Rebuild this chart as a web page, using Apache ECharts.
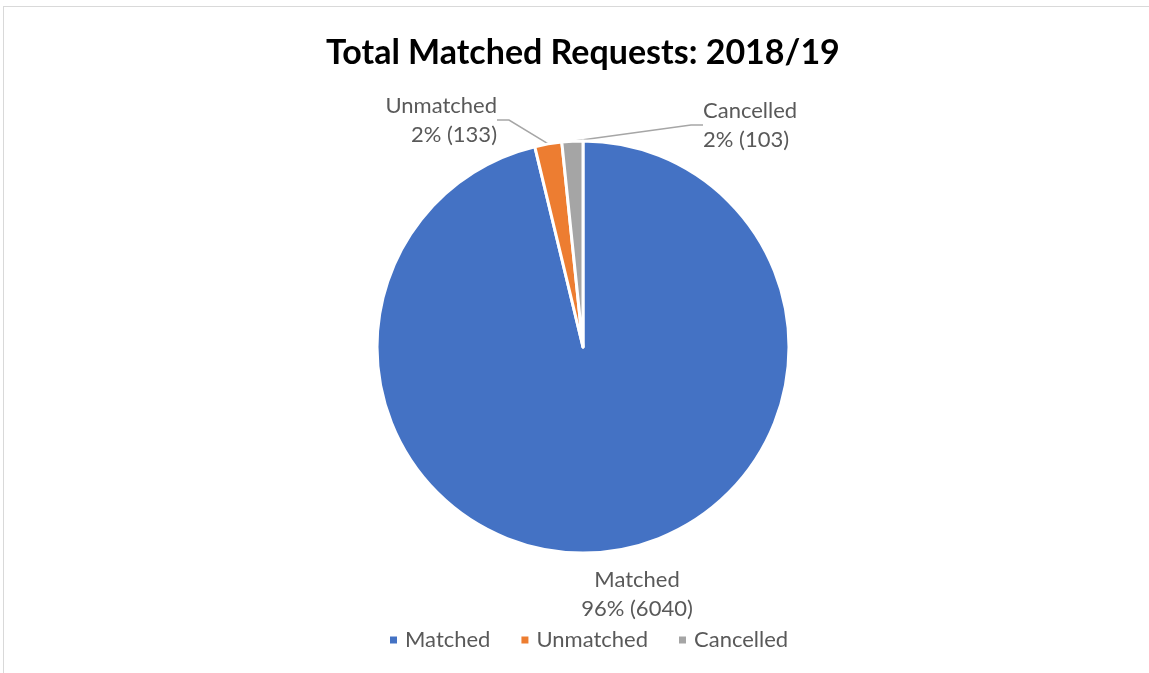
<!DOCTYPE html>
<html>
<head>
<meta charset="utf-8">
<script src="https://cdn.jsdelivr.net/npm/echarts@6/dist/echarts.min.js"></script>
<style>
  html, body { margin: 0; padding: 0; background: #fff; }
  #frame { position: absolute; left: 3px; top: 6px; width: 1170px; height: 700px; border: 1px solid #d9d9d9; }
  #main { position: absolute; left: 0; top: 0; width: 1149px; height: 673px; }
</style>
</head>
<body>
<div id="frame"></div>
<div id="main"></div>
<script>
const categories = ['Matched', 'Unmatched', 'Cancelled']
const counts = [6040, 133, 103]
const colors = ['#4472C4', '#ED7D31', '#A5A5A5']

// where Excel put each data label (text anchor)
const labelSpots = [
  {x: 637, y: 594, align: 'center'},
  {x: 497, y: 120, align: 'right'},
  {x: 703, y: 125, align: 'left'}
]

const myChart = echarts.init(document.getElementById('main'))
const font = 'Lato, "Open Sans", sans-serif'

let option = {
  animation: false,
  color: colors,
  title: {
    text: 'Total Matched Requests: 2018/19',
    left: 321,
    top: 31,
    textStyle: {fontFamily: font, fontSize: 34, fontWeight: 'bold', color: '#000'}
  },
  legend: {
    bottom: 17,
    left: 383,
    itemWidth: 9,
    itemHeight: 9,
    itemGap: 29,
    icon: 'rect',
    textStyle: {fontFamily: font, fontSize: 22, color: '#595959', padding: [0, 0, 0, 2]},
    data: categories
  },
  series: [
    {
      type: 'pie',
      center: [583, 347],
      radius: 206,
      startAngle: 90,
      clockwise: true,
      percentPrecision: 0,
      itemStyle: {borderColor: '#fff', borderWidth: 3},
      label: {
        show: true,
        position: 'outside',
        formatter: '{b}\n{d}% ({c})',
        fontFamily: font,
        fontSize: 22,
        lineHeight: 29,
        color: '#595959'
      },
      labelLine: {
        show: true,
        length: 20,
        length2: 12,
        lineStyle: {color: '#a6a6a6', width: 1.5}
      },
      labelLayout: function (params) {
        const s = labelSpots[params.dataIndex]
        return {x: s.x, y: s.y, align: s.align, verticalAlign: 'middle'}
      },
      data: categories.map((name, i) => ({
        name: name,
        value: counts[i],
        labelLine: {show: i !== 0}
      }))
    }
  ]
}
myChart.setOption(option)
</script>
</body>
</html>
